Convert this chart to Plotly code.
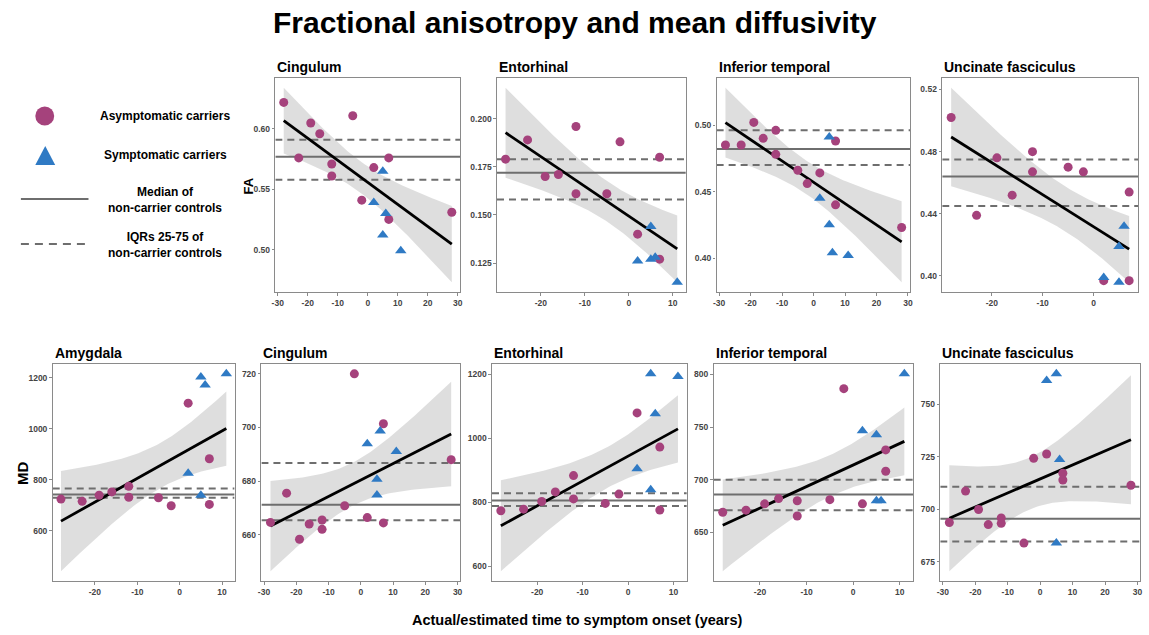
import numpy as np
import plotly.graph_objects as go

# ---------------- DATA ----------------
# FA panels
cing_fa_asym_x = [-28, -23, -19, -16, -12, -12, -5, -2, 2, 7, 7, 28]
cing_fa_asym_y = [0.622, 0.576, 0.605, 0.596, 0.571, 0.561, 0.611, 0.541, 0.568, 0.576, 0.525, 0.531]
cing_fa_sym_x = [2, 5, 5, 6, 11]
cing_fa_sym_y = [0.539, 0.565, 0.512, 0.530, 0.499]
cing_fa_ctrl = [0.558, 0.577, 0.591]  # q25, median, q75

ento_fa_asym_x = [-28, -23, -19, -16, -12, -12, -5, -2, 2, 7, 7]
ento_fa_asym_y = [0.179, 0.189, 0.170, 0.171, 0.196, 0.161, 0.161, 0.188, 0.140, 0.180, 0.127]
ento_fa_sym_x = [2, 5, 5, 6, 11]
ento_fa_sym_y = [0.126, 0.144, 0.127, 0.128, 0.115]
ento_fa_ctrl = [0.158, 0.172, 0.179]

itmp_fa_asym_x = [-28, -23, -19, -16, -12, -12, -5, -2, 2, 7, 7, 28]
itmp_fa_asym_y = [0.485, 0.485, 0.502, 0.490, 0.496, 0.478, 0.466, 0.456, 0.464, 0.488, 0.440, 0.423]
itmp_fa_sym_x = [2, 5, 5, 6, 11]
itmp_fa_sym_y = [0.445, 0.491, 0.425, 0.404, 0.402]
itmp_fa_ctrl = [0.470, 0.482, 0.496]

unc_fa_asym_x = [-28, -23, -19, -16, -12, -12, -5, -2, 2, 7, 7]
unc_fa_asym_y = [0.502, 0.439, 0.476, 0.452, 0.480, 0.467, 0.470, 0.467, 0.397, 0.454, 0.397]
unc_fa_sym_x = [2, 5, 5, 6]
unc_fa_sym_y = [0.399, 0.419, 0.396, 0.432]
unc_fa_ctrl = [0.445, 0.464, 0.475]

# MD panels
amy_md_asym_x = [-28, -23, -19, -16, -12, -12, -5, -2, 2, 7, 7]
amy_md_asym_y = [725, 716, 740, 753, 775, 732, 730, 699, 1101, 883, 704]
amy_md_sym_x = [2, 5, 5, 6, 11]
amy_md_sym_y = [826, 1204, 740, 1172, 1216]
amy_md_ctrl = [730, 743, 766]

cing_md_asym_x = [-28, -23, -19, -16, -12, -12, -5, -2, 2, 7, 7, 28]
cing_md_asym_y = [664.6, 675.5, 658.3, 664.0, 665.5, 662.0, 670.8, 720.0, 666.4, 701.4, 664.4, 688.0]
cing_md_sym_x = [2, 5, 5, 6, 11]
cing_md_sym_y = [693.9, 680.7, 674.8, 698.7, 691.0]
cing_md_ctrl = [665.4, 671.2, 686.8]

ento_md_asym_x = [-28, -23, -19, -16, -12, -12, -5, -2, 2, 7, 7]
ento_md_asym_y = [774, 779, 803, 833, 884, 811, 797, 826, 1080, 973, 776]
ento_md_sym_x = [2, 5, 5, 6, 11]
ento_md_sym_y = [905, 1202, 840, 1077, 1194]
ento_md_ctrl = [789, 806, 829]

itmp_md_asym_x = [-28, -23, -19, -16, -12, -12, -5, -2, 2, 7, 7]
itmp_md_asym_y = [669, 671, 677, 682, 680, 665.5, 681, 786.5, 677, 728.3, 708]
itmp_md_sym_x = [2, 5, 5, 6, 11]
itmp_md_sym_y = [746.5, 742.7, 680, 680, 800.6]
itmp_md_ctrl = [671, 686, 700]

unc_md_asym_x = [-28, -23, -19, -16, -12, -12, -5, -2, 2, 7, 7, 28]
unc_md_asym_y = [693.6, 708.6, 699.8, 692.6, 695.8, 693.2, 683.8, 724.2, 726.3, 717.1, 713.9, 711.4]
unc_md_sym_x = [2, 5, 5, 6]
unc_md_sym_y = [761.3, 764.5, 683.8, 723.6]
unc_md_ctrl = [684.6, 695.4, 710.7]

# tick labels
xt_wide = [-30, -20, -10, 0, 10, 20, 30]
xt_narrow = [-20, -10, 0, 10]
yt_cing_fa = [0.50, 0.55, 0.60]
yt_ento_fa = [0.125, 0.150, 0.175, 0.200]
yt_itmp_fa = [0.40, 0.45, 0.50]
yt_unc_fa = [0.40, 0.44, 0.48, 0.52]
yt_amy_md = [600, 800, 1000, 1200]
yt_cing_md = [660, 680, 700, 720]
yt_ento_md = [600, 800, 1000, 1200]
yt_itmp_md = [650, 700, 750, 800]
yt_unc_md = [675, 700, 725, 750]

# ---------------- LAYOUT HELPERS ----------------
W, H = 1149, 635
def px(x):
    return x / W
def py(y):
    return 1 - y / H

T975 = {10: 2.228, 11: 2.201, 12: 2.179, 13: 2.160, 14: 2.145, 15: 2.131,
        16: 2.120, 17: 2.110, 18: 2.101, 19: 2.093, 20: 2.086}

panels = [
    dict(title="Cingulum", box=(273, 459, 78, 292), ax=cing_fa_asym_x, ay=cing_fa_asym_y,
         sx=cing_fa_sym_x, sy=cing_fa_sym_y, ctrl=cing_fa_ctrl, xt=xt_wide, yt=yt_cing_fa, fmt="{:.2f}"),
    dict(title="Entorhinal", box=(496, 686, 78, 292), ax=ento_fa_asym_x, ay=ento_fa_asym_y,
         sx=ento_fa_sym_x, sy=ento_fa_sym_y, ctrl=ento_fa_ctrl, xt=xt_narrow, yt=yt_ento_fa, fmt="{:.3f}"),
    dict(title="Inferior temporal", box=(717, 912, 78, 292), ax=itmp_fa_asym_x, ay=itmp_fa_asym_y,
         sx=itmp_fa_sym_x, sy=itmp_fa_sym_y, ctrl=itmp_fa_ctrl, xt=xt_wide, yt=yt_itmp_fa, fmt="{:.2f}"),
    dict(title="Uncinate fasciculus", box=(944, 1141, 78, 292), ax=unc_fa_asym_x, ay=unc_fa_asym_y,
         sx=unc_fa_sym_x, sy=unc_fa_sym_y, ctrl=unc_fa_ctrl, xt=xt_narrow, yt=yt_unc_fa, fmt="{:.2f}"),
    dict(title="Amygdala", box=(49, 232, 364, 581), ax=amy_md_asym_x, ay=amy_md_asym_y,
         sx=amy_md_sym_x, sy=amy_md_sym_y, ctrl=amy_md_ctrl, xt=xt_narrow, yt=yt_amy_md, fmt="{:.0f}"),
    dict(title="Cingulum", box=(259, 459, 364, 581), ax=cing_md_asym_x, ay=cing_md_asym_y,
         sx=cing_md_sym_x, sy=cing_md_sym_y, ctrl=cing_md_ctrl, xt=xt_wide, yt=yt_cing_md, fmt="{:.0f}"),
    dict(title="Entorhinal", box=(491, 687, 364, 581), ax=ento_md_asym_x, ay=ento_md_asym_y,
         sx=ento_md_sym_x, sy=ento_md_sym_y, ctrl=ento_md_ctrl, xt=xt_narrow, yt=yt_ento_md, fmt="{:.0f}"),
    dict(title="Inferior temporal", box=(714, 915, 364, 581), ax=itmp_md_asym_x, ay=itmp_md_asym_y,
         sx=itmp_md_sym_x, sy=itmp_md_sym_y, ctrl=itmp_md_ctrl, xt=xt_narrow, yt=yt_itmp_md, fmt="{:.0f}"),
    dict(title="Uncinate fasciculus", box=(942, 1143, 364, 581), ax=unc_md_asym_x, ay=unc_md_asym_y,
         sx=unc_md_sym_x, sy=unc_md_sym_y, ctrl=unc_md_ctrl, xt=xt_wide, yt=yt_unc_md, fmt="{:.0f}"),
]

CIRCLE_COL = "#a5427c"
TRI_COL = "#2f7ac4"
CTRL_COL = "#6e6e6e"
RIBBON_COL = "rgba(160,160,160,0.35)"
FONT = "Liberation Sans"

fig = go.Figure()
layout_axes = {}
annotations = []

for i, p in enumerate(panels, start=1):
    xs = "x" if i == 1 else f"x{i}"
    ys = "y" if i == 1 else f"y{i}"
    xa = "xaxis" if i == 1 else f"xaxis{i}"
    ya = "yaxis" if i == 1 else f"yaxis{i}"

    x_all = np.array(p["ax"] + p["sx"], dtype=float)
    y_all = np.array(p["ay"] + p["sy"], dtype=float)
    n = len(x_all)
    slope, icpt = np.polyfit(x_all, y_all, 1)
    resid = y_all - (slope * x_all + icpt)
    s = np.sqrt(np.sum(resid ** 2) / (n - 2))
    xbar = x_all.mean()
    sxx = np.sum((x_all - xbar) ** 2)
    xg = np.linspace(x_all.min(), x_all.max(), 80)
    yg = slope * xg + icpt
    se = s * np.sqrt(1.0 / n + (xg - xbar) ** 2 / sxx)
    t = T975[n - 2]
    lo, hi = yg - t * se, yg + t * se

    xmin, xmax = x_all.min(), x_all.max()
    xr = [xmin - 0.05 * (xmax - xmin), xmax + 0.05 * (xmax - xmin)]
    yvals = np.concatenate([y_all, lo, hi, np.array(p["ctrl"])])
    ymin, ymax = yvals.min(), yvals.max()
    yr = [ymin - 0.05 * (ymax - ymin), ymax + 0.05 * (ymax - ymin)]

    # ribbon
    fig.add_trace(go.Scatter(x=np.concatenate([xg, xg[::-1]]), y=np.concatenate([hi, lo[::-1]]),
                             fill="toself", fillcolor=RIBBON_COL, line=dict(width=0),
                             mode="lines", hoverinfo="skip", showlegend=False, xaxis=xs, yaxis=ys))
    # control lines
    for k, v in enumerate(p["ctrl"]):
        fig.add_trace(go.Scatter(x=xr, y=[v, v], mode="lines",
                                 line=dict(color=CTRL_COL, width=2, dash="solid" if k == 1 else "7px,5px"),
                                 showlegend=False, hoverinfo="skip", xaxis=xs, yaxis=ys))
    # fit line
    fig.add_trace(go.Scatter(x=xg, y=yg, mode="lines", line=dict(color="black", width=2.8),
                             showlegend=False, hoverinfo="skip", xaxis=xs, yaxis=ys))
    # points
    fig.add_trace(go.Scatter(x=p["ax"], y=p["ay"], mode="markers",
                             marker=dict(symbol="circle", size=9, color=CIRCLE_COL),
                             showlegend=False, xaxis=xs, yaxis=ys))
    fig.add_trace(go.Scatter(x=p["sx"], y=p["sy"], mode="markers",
                             marker=dict(symbol="triangle-up", size=10, color=TRI_COL),
                             showlegend=False, xaxis=xs, yaxis=ys))

    l, r, tp, bt = p["box"]
    common = dict(showline=True, mirror=True, linecolor="#8a8a8a", linewidth=1.3,
                  showgrid=False, zeroline=False, ticks="outside", ticklen=2.5,
                  tickcolor="#8a8a8a", tickwidth=1,
                  tickfont=dict(family=FONT, size=8.5, color="#444444", weight="bold"))
    layout_axes[xa] = dict(domain=[px(l), px(r)], range=xr, anchor=ys,
                           tickmode="array", tickvals=p["xt"], ticktext=[str(v) for v in p["xt"]], **common)
    layout_axes[ya] = dict(domain=[py(bt), py(tp)], range=yr, anchor=xs,
                           tickmode="array", tickvals=p["yt"], ticktext=[p["fmt"].format(v) for v in p["yt"]],
                           **common)
    annotations.append(dict(text=p["title"], x=px(l), y=py(tp - 1), xref="paper", yref="paper",
                            xanchor="left", yanchor="bottom", showarrow=False,
                            font=dict(family=FONT, size=14, color="black", weight="bold")))

# titles
annotations.append(dict(text="Fractional anisotropy and mean diffusivity", x=px(575), y=py(22),
                        xref="paper", yref="paper", xanchor="center", yanchor="middle", showarrow=False,
                        font=dict(family=FONT, size=30, color="black", weight="bold")))
annotations.append(dict(text="Actual/estimated time to symptom onset (years)", x=px(577), y=py(620),
                        xref="paper", yref="paper", xanchor="center", yanchor="middle", showarrow=False,
                        font=dict(family=FONT, size=14.5, color="black", weight="bold")))
annotations.append(dict(text="FA", x=px(246), y=py(186), xref="paper", yref="paper",
                        xanchor="center", yanchor="middle", showarrow=False, textangle=-90,
                        font=dict(family=FONT, size=13, color="black", weight="bold")))
annotations.append(dict(text="MD", x=px(18), y=py(473), xref="paper", yref="paper",
                        xanchor="center", yanchor="middle", showarrow=False, textangle=-90,
                        font=dict(family=FONT, size=15, color="black", weight="bold")))

# legend (drawn manually)
leg_font = dict(family=FONT, size=12, color="black", weight="bold")
for txt, yy in [("Asymptomatic carriers", 116), ("Symptomatic carriers", 155),
                ("Median of<br>non-carrier controls", 200), ("IQRs 25-75 of<br>non-carrier controls", 245)]:
    annotations.append(dict(text=txt, x=px(162), y=py(yy), xref="paper", yref="paper",
                            xanchor="center", yanchor="middle", showarrow=False, font=leg_font))

shapes = [
    dict(type="circle", xref="paper", yref="paper", x0=px(31.5), x1=px(50.5), y0=py(125.5), y1=py(106.5),
         fillcolor=CIRCLE_COL, line=dict(width=0)),
    dict(type="path", xref="paper", yref="paper",
         path=f"M {px(31.5)},{py(165)} L {px(51.5)},{py(165)} L {px(41.5)},{py(146)} Z",
         fillcolor=TRI_COL, line=dict(width=0)),
    dict(type="line", xref="paper", yref="paper", x0=px(17), x1=px(85), y0=py(199), y1=py(199),
         line=dict(color=CTRL_COL, width=2)),
    dict(type="line", xref="paper", yref="paper", x0=px(17), x1=px(84), y0=py(244), y1=py(244),
         line=dict(color=CTRL_COL, width=2, dash="8px,6px")),
]

fig.update_layout(width=W, height=H, margin=dict(l=0, r=0, t=0, b=0),
                  paper_bgcolor="white", plot_bgcolor="white", showlegend=False,
                  annotations=annotations, shapes=shapes, **layout_axes)

fig.write_html("out.html", config={"displayModeBar": False},
               post_script="document.body.style.margin='0px';document.body.style.overflow='hidden';")
